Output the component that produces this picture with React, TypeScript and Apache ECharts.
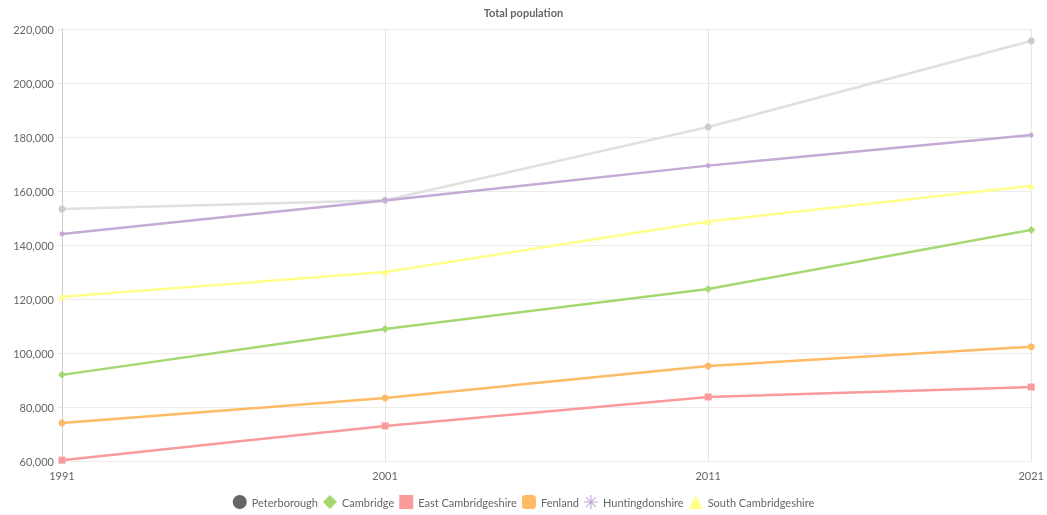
import React, { useEffect, useRef } from "react";
import * as echarts from "echarts";

const years = ["1991", "2001", "2011", "2021"];
const peterborough = [153300, 156600, 183700, 215600];
const cambridge = [91900, 108900, 123700, 145600];
const eastCambridgeshire = [60300, 73000, 83700, 87400];
const fenland = [74100, 83300, 95200, 102300];
const huntingdonshire = [144100, 156500, 169400, 180700];
const southCambridgeshire = [120800, 130000, 148700, 161900];

const asterisk =
  "path://M9.2,0h1.6v20h-1.6z M0,9.2h20v1.6h-20z M2.4,3.5l1.1,-1.1l14.1,14.1l-1.1,1.1z M16.5,2.4l1.1,1.1l-14.1,14.1l-1.1,-1.1z";

export default function App() {
  const ref = useRef<HTMLDivElement>(null);
  useEffect(() => {
    const chart = echarts.init(ref.current!, undefined, { renderer: "svg" });
    const font = "Lato";
    const mk = (name: string, data: number[], color: string, symbol: string, extra: any = {}) => ({
      name,
      type: "line",
      data,
      symbol,
      symbolSize: 7,
      lineStyle: { color, width: 2.5 },
      itemStyle: { color },
      emphasis: { disabled: true },
      ...extra,
    });
    chart.setOption({
      animation: false,
      textStyle: { fontFamily: font },
      title: {
        text: "Total population",
        left: "center",
        top: 2,
        textStyle: { fontSize: 11, fontWeight: "bold", color: "#666", fontFamily: font },
      },
      legend: {
        bottom: 1,
        left: "center",
        itemWidth: 14,
        itemHeight: 14,
        itemGap: 5,
        textStyle: { fontSize: 11, color: "#666", fontFamily: font },
        data: [
          { name: "Peterborough", icon: "circle", itemStyle: { color: "#666666", opacity: 1 } },
          { name: "Cambridge", icon: "diamond" },
          { name: "East Cambridgeshire", icon: "rect" },
          { name: "Fenland", icon: "roundRect" },
          { name: "Huntingdonshire", icon: asterisk },
          { name: "South Cambridgeshire", icon: "triangle" },
        ],
      },
      grid: { left: 62, right: 15, top: 29, bottom: 54 },
      xAxis: {
        type: "category",
        data: years,
        boundaryGap: false,
        axisLine: { show: false },
        axisTick: { show: false },
        axisLabel: { color: "#666", fontSize: 11, fontFamily: font, margin: 9 },
        splitLine: { show: true, lineStyle: { color: "#e6e6e6" } },
      },
      yAxis: {
        type: "value",
        min: 60000,
        max: 220000,
        interval: 20000,
        axisLine: { show: true, lineStyle: { color: "#ccc" } },
        axisTick: { show: true, length: 4, lineStyle: { color: "#e6e6e6" } },
        axisLabel: {
          color: "#666",
          fontSize: 11,
          fontFamily: font,
          margin: 8,
          formatter: (v: number) => v.toLocaleString("en-US"),
        },
        splitLine: { lineStyle: { color: "#ececec" } },
      },
      series: [
        mk("Peterborough", peterborough, "#cccccc", "circle", {
          lineStyle: { color: "#e0e0e0", width: 2.5 },
          itemStyle: { color: "#cccccc" },
        }),
        mk("Huntingdonshire", huntingdonshire, "#c5a9d6", "circle", { symbolSize: 5 }),
        mk("South Cambridgeshire", southCambridgeshire, "#ffff8a", "triangle"),
        mk("Cambridge", cambridge, "#a6d872", "diamond", { symbolSize: 8 }),
        mk("Fenland", fenland, "#fdbb66", "circle"),
        mk("East Cambridgeshire", eastCambridgeshire, "#fa9b9b", "rect"),
      ],
    });
    return () => chart.dispose();
  }, []);
  return (
    <div
      ref={ref}
      style={{ position: "fixed", left: 0, top: 0, width: 1047, height: 515 }}
    />
  );
}
